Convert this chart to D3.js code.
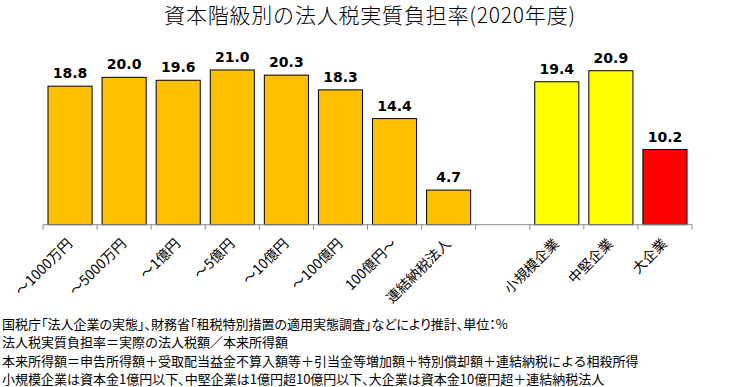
<!DOCTYPE html>
<html>
<head>
<meta charset="utf-8">
<script src="https://cdn.jsdelivr.net/npm/d3@7"></script>
<style>
    body { margin: 0; background: #fff; }
    svg { display: block; font-family: "Noto Sans CJK JP", sans-serif; }
    .palt { font-feature-settings: "palt"; }
</style>
</head>
<body>
<div id="chart"></div>
<script>
// categories (blank slot separates the two groups)
const categories = ['～1000万円','～5000万円','～1億円','～5億円','～10億円','～100億円','100億円～','連結納税法人','','小規模企業','中堅企業','大企業'];
const values = [18.8, 20.0, 19.6, 21.0, 20.3, 18.3, 14.4, 4.7, null, 19.4, 20.9, 10.2];
const barColors = ['#FFC000','#FFC000','#FFC000','#FFC000','#FFC000','#FFC000','#FFC000','#FFC000',null,'#FFFF00','#FFFF00','#FF0000'];
const title = '資本階級別の法人税実質負担率(2020年度)';
const notes = [
    '国税庁「法人企業の実態」、財務省「租税特別措置の適用実態調査」などにより推計、単位：%',
    '法人税実質負担率＝実際の法人税額／本来所得額',
    '本来所得額＝申告所得額＋受取配当益金不算入額等＋引当金等増加額＋特別償却額＋連結納税による相殺所得',
    '小規模企業は資本金1億円以下、中堅企業は1億円超10億円以下、大企業は資本金10億円超＋連結納税法人'
];

const width = 735, height = 387;
const margin = {top: 40.5, left: 43, right: 43, baseline: 224.7};

const svg = d3.select('#chart').append('svg')
    .attr('width', width).attr('height', height);

svg.append('text')
    .attr('x', 370).attr('y', 23)
    .attr('text-anchor', 'middle')
    .attr('font-size', 21)
    .attr('font-weight', 300)
    .attr('letter-spacing', 0.8)
    .text(title);

// scales
const x = d3.scaleBand()
    .domain(d3.range(categories.length))
    .range([margin.left, width - margin.right])
    .paddingInner(0.185).paddingOuter(0.0925);

const y = d3.scaleLinear()
    .domain([0, 25])
    .range([margin.baseline, margin.top]);

const step = x.step();
const data = values.map((v, i) => ({v: v, i: i, c: barColors[i]})).filter(d => d.v !== null);

// bars
svg.selectAll('rect.bar').data(data).enter().append('rect')
    .attr('class', 'bar')
    .attr('x', d => x(d.i))
    .attr('width', x.bandwidth())
    .attr('y', d => y(d.v))
    .attr('height', d => y(0) - y(d.v))
    .attr('fill', d => d.c)
    .attr('stroke', '#000')
    .attr('stroke-width', 1);

// value labels
svg.selectAll('text.val').data(data).enter().append('text')
    .attr('class', 'val')
    .attr('x', d => x(d.i) + x.bandwidth() / 2)
    .attr('y', d => y(d.v) - 8)
    .attr('text-anchor', 'middle')
    .attr('font-family', '"DejaVu Sans", sans-serif')
    .attr('font-weight', 'bold')
    .attr('font-size', 14)
    .text(d => d.v.toFixed(1));

// category axis: line with ticks between categories
const axis = svg.append('g').attr('stroke', '#8c8c8c');
axis.append('line')
    .attr('x1', margin.left).attr('x2', width - margin.right)
    .attr('y1', y(0)).attr('y2', y(0));
axis.selectAll('line.tick').data(d3.range(categories.length + 1)).enter().append('line')
    .attr('class', 'tick')
    .attr('x1', i => margin.left + i * step).attr('x2', i => margin.left + i * step)
    .attr('y1', y(0)).attr('y2', y(0) + 5);

svg.selectAll('text.cat').data(categories).enter().append('text')
    .attr('class', 'cat')
    .attr('transform', (d, i) => `translate(${x(i) + x.bandwidth() / 2 + 3},${y(0) + 20}) rotate(-45)`)
    .attr('text-anchor', 'end')
    .attr('font-size', 14)
    .text(d => d);

// footnotes (lines 1 and 4 use proportional punctuation like the original)
svg.selectAll('text.note').data(notes).enter().append('text')
    .attr('class', (d, i) => (i === 0 || i === 3) ? 'note palt' : 'note')
    .attr('x', 2)
    .attr('y', (d, i) => 329 + i * 18.3)
    .attr('font-size', 13)
    .text(d => d);
</script>
</body>
</html>
